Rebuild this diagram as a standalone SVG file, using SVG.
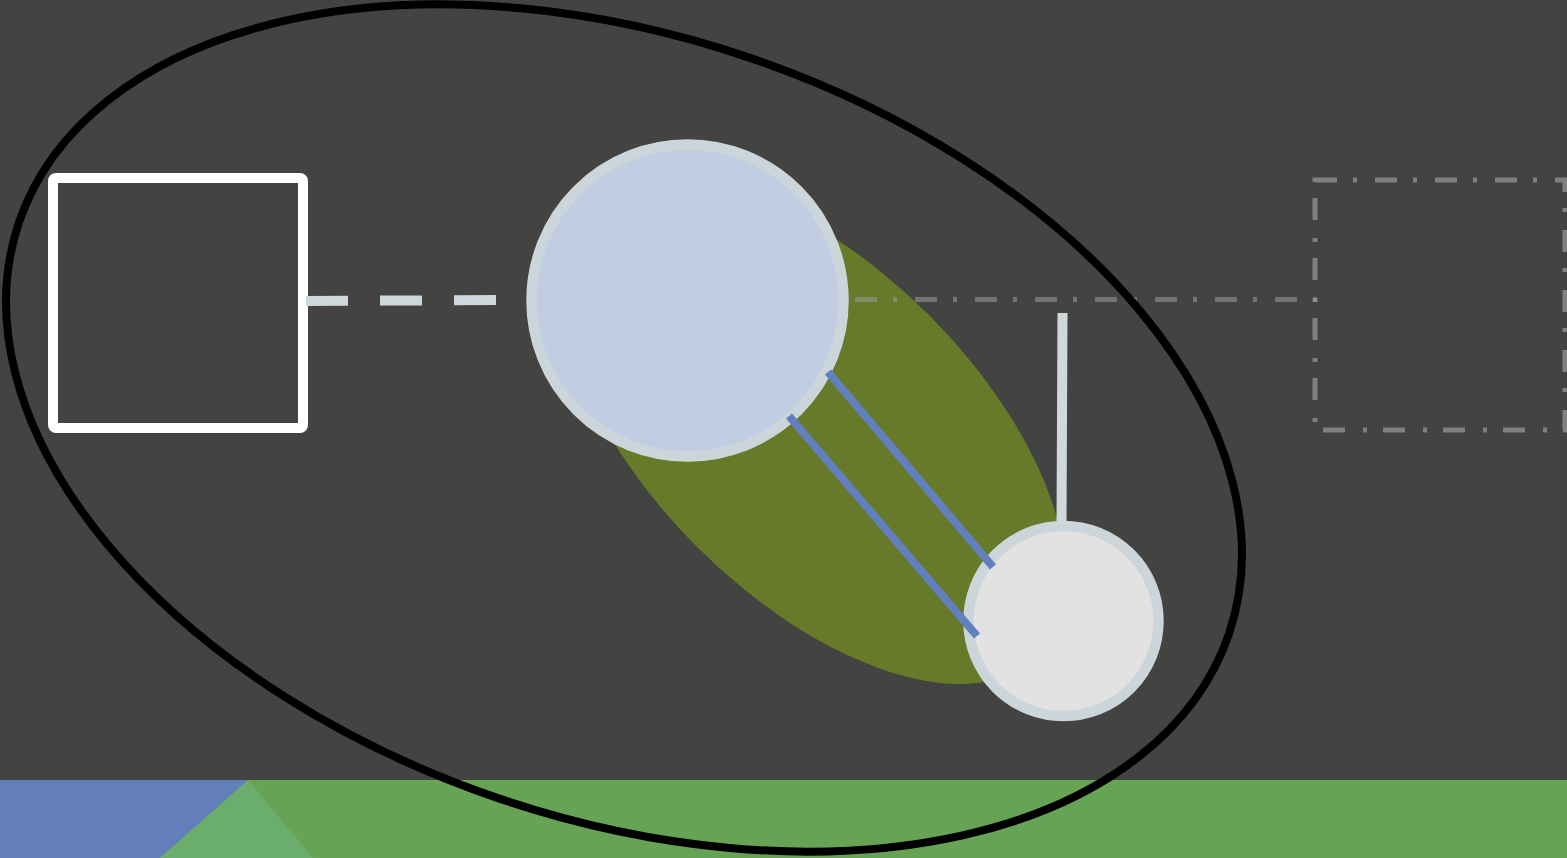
<svg xmlns="http://www.w3.org/2000/svg" width="1567" height="858" viewBox="0 0 1567 858">
<style>
.dashdot{fill:none;stroke:#9a9a9a;stroke-opacity:0.55;stroke-width:5;stroke-dasharray:22 16 4 18}
.ring{stroke:#CCD6DA;stroke-width:10.5}
.blue{stroke:#6280BE;stroke-width:8}
</style>
<rect x="0" y="0" width="1567" height="858" fill="#434342"/>
<g id="ground">
<rect x="0" y="780" width="1567" height="78" fill="#67A355"/>
<polygon points="0,780 248,780 160,858 0,858" fill="#627FBB"/>
<polygon points="248,780 160,858 313,858" fill="#6AAD6C"/>
</g>
<g id="blob">
<ellipse cx="813" cy="431" rx="318" ry="164" transform="rotate(45 813 431)" fill="#667A2A"/>
</g>
<g id="box-left">
<rect x="53" y="178" width="250" height="250" rx="3" fill="none" stroke="#FFFFFF" stroke-width="10"/>
</g>
<g id="box-right">
<rect x="1315" y="180" width="250" height="250" class="dashdot" style="stroke:#808080;stroke-opacity:1"/>
</g>
<g id="circle-big">
<circle cx="687.5" cy="300.5" r="156" fill="#C1CDE3" class="ring"/>
</g>
<g id="circle-small">
<circle cx="1063.5" cy="621" r="95" fill="#E2E2E2" class="ring"/>
</g>
<g id="connectors">
<line x1="306" y1="301" x2="497" y2="300" stroke="#CED8DA" stroke-width="10" stroke-dasharray="42 32"/>
<line x1="855" y1="299.5" x2="1318" y2="299.5" class="dashdot"/>
<line x1="828" y1="372" x2="993" y2="567" class="blue"/>
<line x1="789" y1="416" x2="977" y2="636" class="blue"/>
<line x1="1062.5" y1="313" x2="1061.5" y2="524" stroke="#CFD9DC" stroke-width="10"/>
</g>
<g id="group-ellipse">
<ellipse cx="624" cy="428" rx="639" ry="391" transform="rotate(18.8 624 428)" fill="none" stroke="#000000" stroke-width="8"/>
</g>
</svg>
